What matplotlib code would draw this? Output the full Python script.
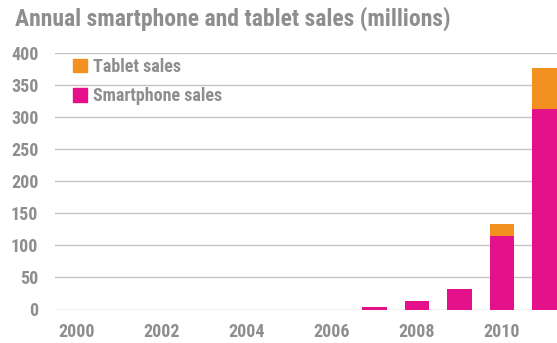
import matplotlib
matplotlib.use("Agg")
import matplotlib.pyplot as plt
from matplotlib import font_manager
from matplotlib.patches import Patch

years = [2000, 2001, 2002, 2003, 2004, 2005, 2006, 2007, 2008, 2009, 2010, 2011]
smartphone_sales = [0, 0, 0, 0, 0, 0, 0, 3.5, 14, 31.5, 115, 313]
tablet_sales = [0, 0, 0, 0, 0, 0, 0, 0, 0, 0, 18, 64]
year_ticks = [2000, 2002, 2004, 2006, 2008, 2010]
value_ticks = [0, 50, 100, 150, 200, 250, 300, 350, 400]

PINK = "#E5118A"
ORANGE = "#F39120"
GREY_TEXT = "#8E8E90"
GRID = "#C4C4C4"

# pick a narrow sans face for all text
names = {f.name for f in font_manager.fontManager.ttflist}
family = "DejaVu Sans"
for cand in ["Liberation Sans Narrow", "Arial Narrow", "Roboto Condensed",
             "Archivo Narrow", "Barlow Semi Condensed", "Asap Condensed"]:
    if cand in names:
        family = cand
        break
plt.rcParams["font.family"] = [family, "DejaVu Sans"]
plt.rcParams["font.weight"] = "bold"

fig = plt.figure(figsize=(5.57, 3.43), dpi=100)
ax = fig.add_axes([55 / 557, 33.5 / 343, 1 - 55 / 557, (289.7 - 33.5) / 343])

width = 0.58
ax.bar(years, smartphone_sales, width=width, color=PINK, zorder=3)
ax.bar(years, tablet_sales, width=width, bottom=smartphone_sales, color=ORANGE, zorder=3)

ax.set_xlim(1999.5, 2011.29)
ax.set_ylim(0, 400)
ax.set_yticks(value_ticks)
ax.set_xticks(year_ticks)
ax.set_xticklabels([str(y) for y in year_ticks])
ax.yaxis.grid(True, color=GRID, linewidth=1.0, zorder=0)
ax.set_axisbelow(True)
for s in ax.spines.values():
    s.set_visible(False)
ax.tick_params(axis="both", length=0, labelsize=13, labelcolor=GREY_TEXT)
ax.tick_params(axis="y", pad=12)
ax.tick_params(axis="x", pad=10)
for lbl in ax.get_xticklabels() + ax.get_yticklabels():
    lbl.set_fontweight("bold")

handles = [Patch(color=ORANGE, label="Tablet sales"), Patch(color=PINK, label="Smartphone sales")]
leg = ax.legend(handles=handles, loc="upper left",
                bbox_to_anchor=(73 / 557, 1 - 58 / 343), bbox_transform=fig.transFigure,
                borderpad=0, borderaxespad=0,
                frameon=False, handlelength=0.75, handleheight=0.75,
                handletextpad=0.35, labelspacing=0.62,
                prop={"size": 13, "weight": "bold"})
for t in leg.get_texts():
    t.set_color(GREY_TEXT)

fig.text(15 / 557, 1 - 19 / 343, "Annual smartphone and tablet sales (millions)",
         fontsize=17, fontweight="bold", color=GREY_TEXT, va="center", ha="left")

fig.savefig("out.png", dpi=100)
